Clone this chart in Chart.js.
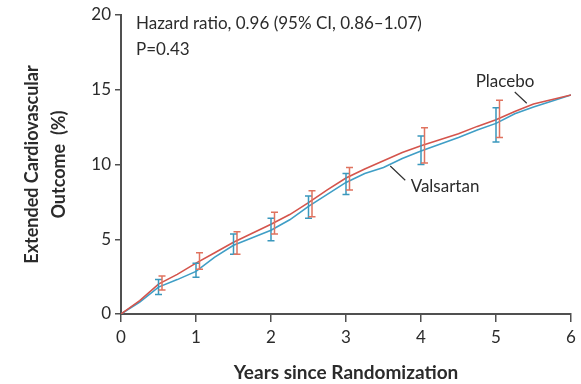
<!DOCTYPE html>
<html>
<head>
<meta charset="utf-8">
<script src="https://cdn.jsdelivr.net/npm/chart.js@4"></script>
<style>
  html, body { margin: 0; padding: 0; background: #ffffff; }
  #wrap { width: 581px; height: 384px; position: relative; }
</style>
</head>
<body>
<div id="wrap"><canvas id="c" width="581" height="384"></canvas></div>
<script>
// ---- data ----
const years = [0, 0.25, 0.5, 0.75, 1, 1.25, 1.5, 1.75, 2, 2.25, 2.5, 2.75, 3, 3.25, 3.5, 3.75, 4, 4.25, 4.5, 4.75, 5, 5.25, 5.5, 5.75, 6];
const placebo   = [0, 0.9, 2.0, 2.65, 3.4, 4.1, 4.8, 5.4, 6.0, 6.65, 7.45, 8.3, 9.1, 9.7, 10.25, 10.8, 11.25, 11.65, 12.05, 12.55, 13.0, 13.55, 14.05, 14.35, 14.65];
const valsartan = [0, 0.8, 1.8, 2.3, 2.85, 3.8, 4.6, 5.1, 5.6, 6.3, 7.2, 8.0, 8.8, 9.4, 9.8, 10.4, 10.9, 11.35, 11.8, 12.3, 12.75, 13.4, 13.85, 14.25, 14.65];

const barYears      = [0.5, 1, 1.5, 2, 2.5, 3, 4, 5];
const placeboLow    = [1.6, 3.0, 4.0, 5.35, 6.5, 8.3, 10.1, 11.8];
const placeboHigh   = [2.55, 4.1, 5.5, 6.8, 8.25, 9.8, 12.45, 14.3];
const valsartanLow  = [1.3, 2.45, 4.0, 4.9, 6.4, 8.0, 10.0, 11.5];
const valsartanHigh = [2.3, 3.4, 5.35, 6.4, 7.9, 9.4, 11.9, 13.8];

const xTickLabels = ['0', '1', '2', '3', '4', '5', '6'];
const yTickLabels = ['0', '5', '10', '15', '20'];

const seriesNames = ['Placebo', 'Valsartan'];
const hazardText = ['Hazard ratio, 0.96 (95% CI, 0.86\u20131.07)', 'P=0.43'];
const xTitle = 'Years since Randomization';
const yTitle = ['Extended Cardiovascular', 'Outcome  (%)'];

// ---- styling ----
const RED = '#d4544c';
const BLUE = '#3f9ec6';
const RED_BAR = '#e0735f';
const BLUE_BAR = '#3a98bd';
const AXIS = '#505050';
const TEXT = '#2b2b2b';
const FONT = 'Lato, "Open Sans", sans-serif';

const toPts = (arr) => years.map((x, i) => ({ x: x, y: arr[i] }));

const errorBars = {
  id: 'errorBars',
  afterDatasetsDraw(chart) {
    const ctx = chart.ctx;
    const xs = chart.scales.x, ys = chart.scales.y;
    const groups = [
      { lo: valsartanLow, hi: valsartanHigh, color: BLUE_BAR, dx: 0 },
      { lo: placeboLow, hi: placeboHigh, color: RED_BAR, dx: 3.5 }
    ];
    ctx.save();
    ctx.lineWidth = 1.5;
    groups.forEach(g => {
      ctx.strokeStyle = g.color;
      barYears.forEach((yr, i) => {
        const px = xs.getPixelForValue(yr) + g.dx;
        const y1 = ys.getPixelForValue(g.lo[i]);
        const y2 = ys.getPixelForValue(g.hi[i]);
        ctx.beginPath();
        ctx.moveTo(px, y1); ctx.lineTo(px, y2);
        ctx.moveTo(px - 3.5, y1); ctx.lineTo(px + 3.5, y1);
        ctx.moveTo(px - 3.5, y2); ctx.lineTo(px + 3.5, y2);
        ctx.stroke();
      });
    });
    ctx.restore();
  }
};

const annotations = {
  id: 'annotations',
  afterDraw(chart) {
    const ctx = chart.ctx;
    const xs = chart.scales.x, ys = chart.scales.y;
    const area = chart.chartArea;
    ctx.save();
    ctx.fillStyle = TEXT;
    ctx.font = '17px ' + FONT;
    ctx.textBaseline = 'middle';
    ctx.textAlign = 'left';
    ctx.fillText(hazardText[0], area.left + 15, area.top + 9);
    ctx.fillText(hazardText[1], area.left + 15, area.top + 35);

    ctx.textAlign = 'center';
    ctx.fillText(seriesNames[0], xs.getPixelForValue(5.12), ys.getPixelForValue(15.55));
    ctx.fillText(seriesNames[1], xs.getPixelForValue(4.32), ys.getPixelForValue(8.5));

    ctx.strokeStyle = '#333333';
    ctx.lineWidth = 1.2;
    ctx.beginPath();
    ctx.moveTo(xs.getPixelForValue(5.25), ys.getPixelForValue(14.85));
    ctx.lineTo(xs.getPixelForValue(5.41), ys.getPixelForValue(14.1));
    ctx.moveTo(xs.getPixelForValue(3.59), ys.getPixelForValue(9.9));
    ctx.lineTo(xs.getPixelForValue(3.79), ys.getPixelForValue(8.95));
    ctx.stroke();
    ctx.restore();
  }
};

new Chart(document.getElementById('c'), {
  type: 'line',
  data: {
    datasets: [
      { label: seriesNames[0], data: toPts(placebo), borderColor: RED, borderWidth: 1.6, pointRadius: 0, tension: 0, fill: false },
      { label: seriesNames[1], data: toPts(valsartan), borderColor: BLUE, borderWidth: 1.6, pointRadius: 0, tension: 0, fill: false }
    ]
  },
  options: {
    responsive: false,
    animation: false,
    devicePixelRatio: 1,
    layout: { padding: { left: 0, right: 10, top: 15, bottom: 0 } },
    plugins: { legend: { display: false }, tooltip: { enabled: false } },
    scales: {
      x: {
        type: 'linear', min: 0, max: 6,
        afterFit(s) { s.height = 70; },
        ticks: {
          stepSize: 1, padding: 5, color: TEXT,
          font: { family: FONT, size: 17 },
          callback: (v) => xTickLabels[Math.round(v)] ?? ''
        },
        grid: { drawOnChartArea: false, drawTicks: true, tickLength: 8, color: AXIS, lineWidth: 1.5 },
        border: { display: true, color: AXIS, width: 2 },
        title: {
          display: true, text: xTitle, color: TEXT,
          font: { family: FONT, size: 19, weight: 'bold', lineHeight: 1.2 },
          padding: { top: 0, bottom: 0 }
        }
      },
      y: {
        type: 'linear', min: 0, max: 20,
        afterFit(s) { s.width = 121; },
        ticks: {
          stepSize: 5, padding: 4, color: TEXT,
          font: { family: FONT, size: 17 },
          callback: (v) => yTickLabels[Math.round(v / 5)] ?? ''
        },
        grid: { drawOnChartArea: false, drawTicks: true, tickLength: 6, color: AXIS, lineWidth: 1.5 },
        border: { display: true, color: AXIS, width: 2 },
        title: {
          display: true, text: yTitle, color: TEXT,
          font: { family: FONT, size: 18, weight: 'bold', lineHeight: 1.5 },
          padding: { top: 19, bottom: 0 }
        }
      }
    }
  },
  plugins: [errorBars, annotations]
});
</script>
</body>
</html>
